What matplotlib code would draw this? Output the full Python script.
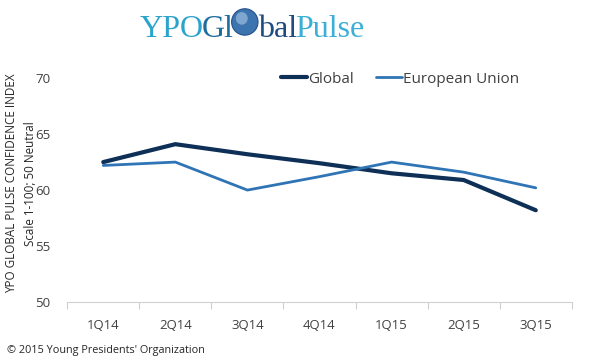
import matplotlib
matplotlib.use("Agg")
import matplotlib.pyplot as plt
from matplotlib.patches import Ellipse

quarters = ["1Q14", "2Q14", "3Q14", "4Q14", "1Q15", "2Q15", "3Q15"]
global_idx = [62.5, 64.1, 63.2, 62.4, 61.5, 60.9, 58.2]
eu_idx = [62.2, 62.5, 60.0, 61.2, 62.5, 61.6, 60.2]
y_ticks = [50, 55, 60, 65, 70]

plt.rcParams['font.family'] = ['Open Sans', 'DejaVu Sans']

fig = plt.figure(figsize=(6, 3.6), dpi=100)
ax = fig.add_axes([0.112, 0.161, 0.841, 0.622])

x = list(range(len(quarters)))
ax.plot(x, global_idx, color="#0e2f56", lw=3.0, label="Global", solid_capstyle="round")
ax.plot(x, eu_idx, color="#2f74b5", lw=2.0, label="European Union", solid_capstyle="round")

ax.set_xlim(-0.5, len(quarters) - 0.5)
ax.set_ylim(50, 70)
ax.set_yticks(y_ticks)
ax.set_xticks(x)
ax.set_xticklabels(quarters)
ax.set_xticks([i - 0.5 for i in range(len(quarters) + 1)], minor=True)
ax.tick_params(axis="x", which="major", length=0, pad=12, labelsize=9.5, labelcolor="#404040")
ax.tick_params(axis="x", which="minor", length=5, color="#d0d0d0", width=0.8)
ax.tick_params(axis="y", length=0, pad=12, labelsize=9.5, labelcolor="#404040")
for s in ["top", "right", "left"]:
    ax.spines[s].set_visible(False)
ax.spines["bottom"].set_color("#d0d0d0")
ax.spines["bottom"].set_linewidth(0.8)

leg = ax.legend(loc="upper center", bbox_to_anchor=(0.66, 1.09), ncol=2, frameon=False,
                fontsize=11, handlelength=1.7, handletextpad=0.1, columnspacing=1.4)
for t in leg.get_texts():
    t.set_color("#404040")

fig.text(0.020, 0.49, "YPO GLOBAL PULSE CONFIDENCE INDEX", rotation=90,
         ha="center", va="center", fontsize=8.4, color="#262626")
fig.text(0.050, 0.49, "Scale 1-100; 50 Neutral", rotation=90,
         ha="center", va="center", fontsize=8.4, color="#262626")

fig.text(0.012, 0.025, "\u00a9 2015 Young Presidents' Organization", fontsize=7.8,
         color="#262626", ha="left", va="center")

# logo pieces placed one after another
renderer = fig.canvas.get_renderer()
pieces = [("YPO", "#2ba3cc"), ("Gl", "#1f6c9e"), (None, None), ("bal", "#1e4b80"), ("Pulse", "#3cafd6")]
xpos = 0.232
ybase = 0.897
fs = 23
for txt, col in pieces:
    if txt is None:
        w = 0.044
        fig.patches.append(Ellipse((xpos + w / 2, ybase + 0.042), w, w * 6 / 3.6,
                                   transform=fig.transFigure, facecolor="#3c74b0",
                                   edgecolor="#24508a", lw=0.8))
        fig.patches.append(Ellipse((xpos + w / 2 - 0.005, ybase + 0.052), w * 0.45, w * 0.8,
                                   transform=fig.transFigure, facecolor="#8fb3d6",
                                   edgecolor="none", alpha=0.8))
        xpos += w
        continue
    t = fig.text(xpos, ybase, txt, fontsize=fs, color=col, family="Liberation Serif",
                 ha="left", va="baseline")
    bb = t.get_window_extent(renderer)
    xpos += bb.width / fig.bbox.width - 0.003

fig.savefig("out.png", dpi=100)
